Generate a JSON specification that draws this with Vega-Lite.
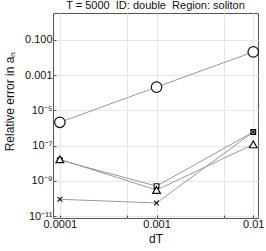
{
  "$schema": "https://vega.github.io/schema/vega-lite/v6.json",
  "autosize": {"type": "none"},
  "padding": {"left": 53, "top": 13, "right": 8, "bottom": 33},
  "width": 205,
  "height": 205,
  "background": "white",
  "title": {
    "text": "T = 5000\u00a0 ID: double\u00a0 Region: soliton",
    "fontSize": 11,
    "fontWeight": "normal",
    "font": "Liberation Sans",
    "color": "#111",
    "anchor": "middle",
    "offset": 2
  },
  "config": {
    "view": {"stroke": "#555", "strokeWidth": 1},
    "axis": {
      "labelFont": "Liberation Sans",
      "titleFont": "Liberation Sans",
      "labelColor": "#111",
      "titleColor": "#111",
      "labelFontSize": 11,
      "titleFontSize": 12,
      "titleFontWeight": "normal",
      "gridColor": "#e6e6e6",
      "gridWidth": 1,
      "domain": false,
      "tickColor": "#555",
      "tickSize": -3
    }
  },
  "data": {
    "values": [
      {"series": "circle", "dT": 0.0001, "err": 2.1e-6},
      {"series": "circle", "dT": 0.001, "err": 2.1e-4},
      {"series": "circle", "dT": 0.01, "err": 0.021},
      {"series": "square", "dT": 0.0001, "err": 1.5e-8},
      {"series": "square", "dT": 0.001, "err": 5.0e-10},
      {"series": "square", "dT": 0.01, "err": 5.9e-7},
      {"series": "triangle", "dT": 0.0001, "err": 1.66e-8},
      {"series": "triangle", "dT": 0.001, "err": 3.0e-10},
      {"series": "triangle", "dT": 0.01, "err": 1.17e-7},
      {"series": "cross", "dT": 0.0001, "err": 8.9e-11},
      {"series": "cross", "dT": 0.001, "err": 5.5e-11},
      {"series": "cross", "dT": 0.01, "err": 5.9e-7}
    ]
  },
  "encoding": {
    "x": {
      "field": "dT",
      "type": "quantitative",
      "scale": {"type": "log", "domain": [8.5e-5, 0.0112], "nice": false},
      "axis": {
        "title": "dT",
        "values": [0.0001, 0.0005, 0.001, 0.005, 0.01],
        "labelExpr": "datum.value == 0.0001 ? '0.0001' : datum.value == 0.001 ? '0.001' : datum.value == 0.01 ? '0.01' : ''",
        "labelOverlap": false,
        "labelPadding": 3,
        "titlePadding": 4
      }
    },
    "y": {
      "field": "err",
      "type": "quantitative",
      "scale": {"type": "log", "domain": [7.7e-12, 3.4], "nice": false},
      "axis": {
        "title": "Relative error in aₙ",
        "values": [1e-11, 1e-9, 1e-7, 1e-5, 0.001, 0.1],
        "labelExpr": "round(log(datum.value)/LN10) >= -3 ? format(datum.value, '.3f') : '10⁻' + (round(log(datum.value)/LN10) == -5 ? '⁵' : round(log(datum.value)/LN10) == -7 ? '⁷' : round(log(datum.value)/LN10) == -9 ? '⁹' : '¹¹')",
        "labelOverlap": false,
        "labelPadding": 4,
        "titleX": -44,
        "titleY": 88,
        "titleAlign": "center",
        "titleBaseline": "middle"
      }
    }
  },
  "layer": [
    {
      "mark": {"type": "line", "color": "#999", "strokeWidth": 1},
      "encoding": {"detail": {"field": "series"}}
    },
    {
      "mark": {"type": "point", "filled": false, "fill": "white", "fillOpacity": 1, "stroke": "#111", "strokeWidth": 1.2, "opacity": 1},
      "encoding": {
        "shape": {
          "field": "series",
          "scale": {"domain": ["circle", "square", "triangle", "cross"], "range": ["circle", "square", "triangle-up", "M-1,-1L1,1M-1,1L1,-1"]},
          "legend": null
        },
        "size": {
          "field": "series",
          "scale": {"type": "ordinal", "domain": ["circle", "square", "triangle", "cross"], "range": [110, 22, 60, 22]},
          "legend": null
        }
      }
    }
  ]
}
